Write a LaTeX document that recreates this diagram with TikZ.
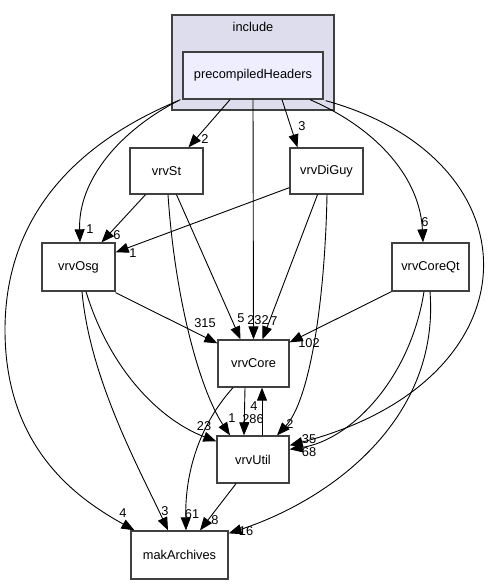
\documentclass[tikz,border=0pt]{standalone}
\usepackage{fontspec}
\setmainfont{Liberation Sans}
\usetikzlibrary{arrows.meta}
\definecolor{bord}{HTML}{404040}
\definecolor{clfill}{HTML}{DDDDEE}
\definecolor{phfill}{HTML}{EEEEFF}
\begin{document}
\begin{tikzpicture}[x=1pt,y=-1pt,
  box/.style={draw=bord,line width=1.3pt,fill=white,inner sep=0pt,font=\fontsize{12.8}{14}\selectfont},
  dep/.style={draw=black,line width=0.9pt,-{Triangle[length=13pt,width=10pt]}},
  lab/.style={inner sep=0pt,font=\fontsize{12.8}{14}\selectfont}]
\useasboundingbox (0,0) rectangle (493,585);
\fill[white] (0,0) rectangle (493,585);
% cluster
\draw[draw=bord,line width=1.3pt,fill=clfill] (172,15) rectangle (334,110);
\node[lab] (inc) at (253,27) {include};
% nodes
\node[box,fill=phfill,minimum width=140pt,minimum height=47pt] (ph) at (253,75.5) {precompiledHeaders};
\node[box,minimum width=73pt,minimum height=46pt] (st) at (166.5,171) {vrvSt};
\node[box,minimum width=73pt,minimum height=46pt] (dg) at (326.5,171) {vrvDiGuy};
\node[box,minimum width=73pt,minimum height=48pt] (osg) at (78.5,267) {vrvOsg};
\node[box,minimum width=77pt,minimum height=48pt] (cqt) at (430.5,267) {vrvCoreQt};
\node[box,minimum width=71pt,minimum height=47pt] (core) at (253.5,363.5) {vrvCore};
\node[box,minimum width=72pt,minimum height=47pt] (util) at (253,459.5) {vrvUtil};
\node[box,minimum width=97pt,minimum height=48pt] (mak) at (179.5,555) {makArchives};
% edges
\draw[dep] ([xshift=-23pt]ph.south) -- ([xshift=22pt]st.north);
\draw[dep] ([xshift=29pt]ph.south) -- ([xshift=-29pt]dg.north);
\draw[dep] (ph.south) -- (core.north);
\draw[dep] ([xshift=-2pt]ph.south west) .. controls (120,130) and (78,180) .. ([xshift=1.5pt]osg.north);
\draw[dep] ([xshift=-4pt,yshift=-1pt]ph.south west) .. controls (60,150) and (5,230) .. (5,330) .. controls (5,450) and (80,500) .. ([xshift=-45pt]mak.north);
\draw[dep] ([xshift=57pt]ph.south) .. controls (380,130) and (420,180) .. ([xshift=-7.5pt]cqt.north);
\draw[dep] ([xshift=2pt,yshift=-1pt]ph.south east) .. controls (540,160) and (540,380) .. ([yshift=-10pt]util.north east);
\draw[dep] ([xshift=-21pt]st.south) -- ([xshift=23pt]osg.north);
\draw[dep] ([xshift=10pt]st.south) -- ([xshift=-13pt]core.north);
\draw[dep] ([xshift=1.5pt]st.south) .. controls (175,300) and (200,390) .. ([xshift=-23pt]util.north);
\draw[dep] ([yshift=7pt]dg.south west) -- ([yshift=-10pt]osg.north east);
\draw[dep] ([xshift=-9pt]dg.south) -- ([xshift=9pt]core.north);
\draw[dep] ([xshift=0.5pt]dg.south) .. controls (325,300) and (310,400) .. ([xshift=24pt]util.north);
\draw[dep] ([yshift=-1pt]osg.south east) -- ([yshift=-4pt]core.north west);
\draw[dep] ([xshift=7.5pt]osg.south) .. controls (110,370) and (160,420) .. ([yshift=-6pt]util.north west);
\draw[dep] ([xshift=3.5pt]osg.south) .. controls (90,380) and (140,470) .. ([xshift=-11.5pt]mak.north);
\draw[dep] (cqt.south west) -- ([yshift=-3pt]core.north east);
\draw[dep] ([xshift=-6.5pt]cqt.south) .. controls (410,380) and (350,440) .. ([yshift=-14pt]util.north east);
\draw[dep] ([xshift=-0.5pt]cqt.south) .. controls (440,420) and (330,500) .. ([yshift=-3pt]mak.north east);
\draw[dep] ([xshift=-8.5pt]core.south) -- ([xshift=-9pt]util.north);
\draw[dep] ([xshift=9pt]util.north) -- ([xshift=8.5pt]core.south);
\draw[dep] ([xshift=-20.5pt]core.south) .. controls (195,430) and (185,480) .. ([xshift=6.5pt]mak.north);
\draw[dep] ([xshift=-17pt]util.south) -- ([xshift=20.5pt]mak.north);
% labels
\node[lab] (l1) at (205,139) {2};
\node[lab] (l2) at (302,126) {3};
\node[lab] (l3) at (258,320) {232};
\node[lab] (l4) at (90,229) {1};
\node[lab] (l5) at (123,513) {4};
\node[lab] (l6) at (425,222) {6};
\node[lab] (l7) at (309,439) {35};
\node[lab] (l8) at (117,235) {6};
\node[lab] (l9) at (241,318) {5};
\node[lab] (l10) at (232,418) {1};
\node[lab] (l11) at (133,253) {1};
\node[lab] (l12) at (274,321) {7};
\node[lab] (l13) at (290,424) {2};
\node[lab] (l14) at (205,323) {315};
\node[lab] (l15) at (204,426) {23};
\node[lab] (l16) at (165,511) {3};
\node[lab] (l17) at (309,343) {102};
\node[lab] (l18) at (309,452) {68};
\node[lab] (l19) at (246,531) {16};
\node[lab] (l20) at (253,419) {286};
\node[lab] (l21) at (254,406) {4};
\node[lab] (l22) at (192,514) {61};
\node[lab] (l23) at (215,520) {8};
\end{tikzpicture}
\end{document}
